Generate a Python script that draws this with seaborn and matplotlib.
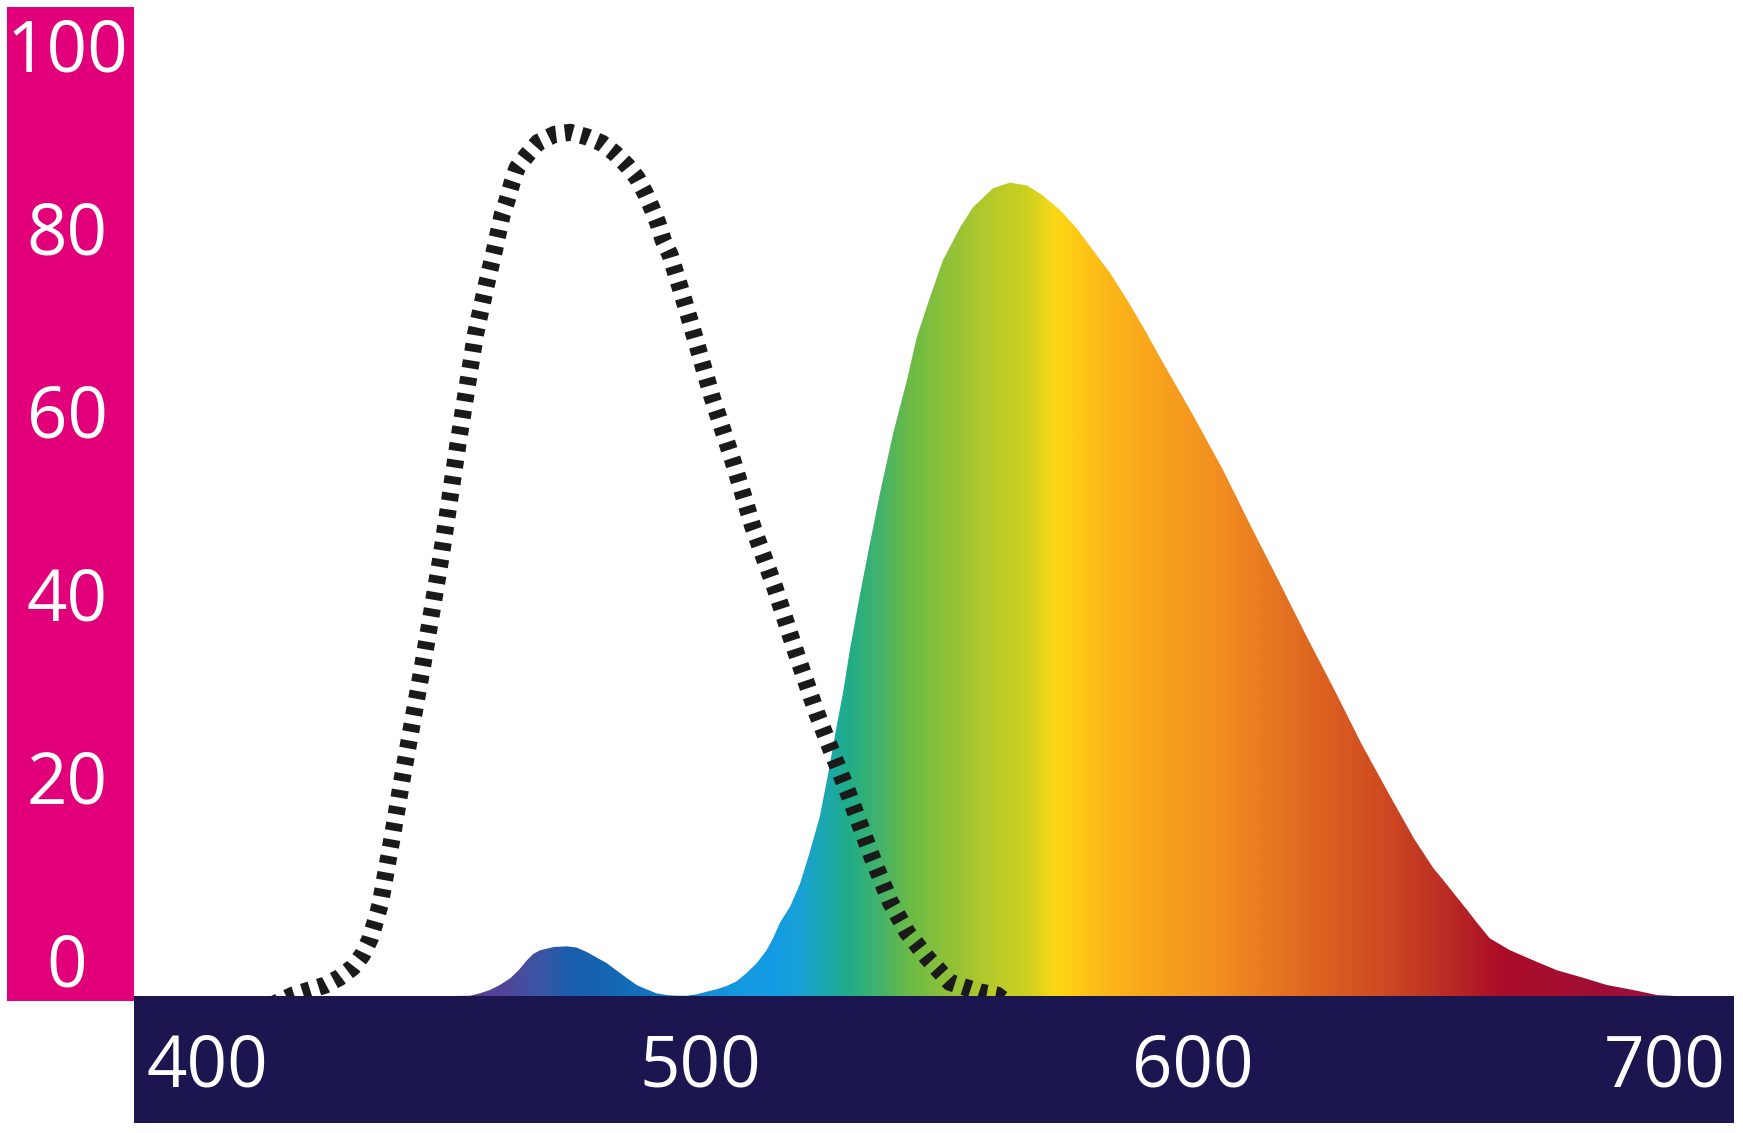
import numpy as np
import pandas as pd
import matplotlib
matplotlib.use("Agg")
import matplotlib.pyplot as plt
import seaborn as sns
from matplotlib.colors import LinearSegmentedColormap
from matplotlib.patches import Rectangle
from matplotlib.transforms import ScaledTranslation

# ---------------- data ----------------
# photopic (coloured) curve: wavelength (nm) and relative sensitivity
fill_nm = [450.0, 453.3, 455.3, 457.3, 459.3, 461.4, 463.1, 464.8, 466.1, 467.5, 470.2,
           472.9, 474.9, 477.0, 479.0, 481.0, 483.0, 485.1, 487.1, 489.1, 491.1, 493.2,
           495.2, 497.3, 499.3, 501.3, 503.3, 505.4, 507.4, 509.4, 511.5, 513.5, 514.8,
           516.2, 518.3, 520.3, 522.2, 524.3, 526.0, 527.7, 529.1, 530.4, 532.5, 534.5,
           536.5, 539.2, 542.0, 544.0, 546.7, 549.3, 552.8, 555.4, 559.5, 562.9, 566.4,
           569.6, 573.1, 576.5, 579.8, 583.3, 586.7, 590.0, 593.4, 600.1, 606.2, 612.0,
           617.4, 623.0, 628.7, 634.3, 640.0, 645.0, 648.9, 650.9, 653.7, 655.8, 657.8,
           660.4, 664.5, 669.2, 674.1, 679.3, 684.2, 689.5, 694.4, 698.0]
fill_val = [0.0, 0.03, 0.3, 0.66, 1.2, 1.93, 2.8, 3.9, 4.6, 5.0, 5.35,
            5.43, 5.3, 4.8, 4.2, 3.6, 2.8, 1.97, 1.2, 0.73, 0.3, 0.1,
            0.03, 0.03, 0.18, 0.47, 0.73, 1.1, 1.6, 2.5, 3.6, 5.0, 6.3,
            8.0, 9.8, 12.3, 15.6, 19.6, 24.3, 29.4, 33.4, 37.8, 44.0, 49.5,
            54.9, 61.5, 67.3, 72.0, 76.4, 80.4, 84.0, 86.2, 88.3, 88.9, 88.6,
            87.5, 85.9, 83.9, 81.5, 79.0, 76.1, 73.1, 69.8, 63.5, 57.5, 51.2,
            45.5, 39.5, 33.6, 27.6, 22.0, 17.2, 14.0, 12.7, 10.8, 9.4, 8.0,
            6.3, 5.0, 3.9, 2.8, 2.0, 1.2, 0.66, 0.1, 0.0]

# scotopic (dotted) curve
dot_nm = [413.0, 417.3, 420.6, 423.9, 426.7, 429.4, 431.4, 433.0, 434.0, 435.0, 436.0,
          437.5, 439.5, 443.6, 447.4, 450.8, 454.4, 456.6, 458.3, 459.8, 460.8, 461.8,
          462.8, 464.8, 467.1, 470.5, 473.6, 477.0, 480.1, 482.7, 485.1, 487.2, 488.8,
          490.2, 491.4, 492.5, 493.9, 495.9, 497.9, 502.4, 506.7, 510.7, 515.2, 519.3,
          523.7, 526.0, 530.0, 534.9, 538.6, 542.0, 546.1, 550.7, 556.8, 560.3, 563.0]
dot_val = [-1.0, 0.1, 0.65, 1.2, 2.0, 3.1, 4.5, 6.3, 8.1, 10.0, 13.0,
           17.5, 23.8, 36.0, 48.1, 60.3, 72.4, 77.8, 81.7, 85.4, 87.0, 88.9,
           90.5, 91.9, 93.3, 94.2, 94.4, 93.9, 93.2, 92.1, 90.8, 89.4, 87.8,
           86.1, 84.5, 82.6, 81.0, 77.5, 73.9, 65.5, 58.4, 51.3, 44.6, 37.8,
           30.9, 27.7, 22.3, 15.2, 10.3, 7.0, 4.2, 1.5, 0.44, 0.1, -1.0]

# spectrum colour stops (wavelength, colour)
spec_nm = [385.0, 453.3, 460.8, 467.5, 473.0, 481.1, 494.5, 508.1, 514.8, 520.3, 530.4,
           536.5, 542.6, 549.3, 559.5, 566.4, 572.5, 579.8, 590.0, 605.0, 621.8, 638.7,
           655.8, 662.5, 682.8, 696.4, 710.0]
spec_col = ["#5b3b93", "#5b3b93", "#4f469c", "#3a56a4", "#1a5ead", "#1465b1", "#1180c9",
            "#159ae2", "#139be5", "#18a1d5", "#20ad86", "#44b26a", "#6cbb45", "#8bc03a",
            "#b8ca2a", "#cdd020", "#fdd813", "#fdbf17", "#f9a81b", "#f39020", "#e16b20",
            "#cf4b22", "#b52325", "#ac0e28", "#a00d35", "#9b1040", "#961045"]

x_ticks = [400, 500, 600, 700]
x_labels = ["400", "500", "600", "700"]
y_ticks = [0, 20, 40, 60, 80, 100]
y_labels = ["0", "20", "40", "60", "80", "100"]

# ---------------- style ----------------
sns.set_theme(style="white")
plt.rcParams["font.family"] = ["Open Sans", "DejaVu Sans"]

W, H, DPI = 1743, 1133, 100
fig = plt.figure(figsize=(W / DPI, H / DPI), dpi=DPI)
fig.patch.set_facecolor("white")

def px_rect(x0, y0_top, x1, y1_top, color):
    # rectangle given in pixel coordinates (origin top-left)
    r = Rectangle((x0 / W, 1 - y1_top / H), (x1 - x0) / W, (y1_top - y0_top) / H,
                  transform=fig.transFigure, facecolor=color, edgecolor="none", zorder=-5)
    fig.patches.append(r)

PINK = "#e2007a"
NAVY = "#1c1650"
px_rect(7, 7, 134, 1001, PINK)
px_rect(134, 996, 1734, 1123, NAVY)

ax = fig.add_axes([134 / W, 1 - 996 / H, 1600 / W, 989 / H])
ax.set_facecolor("none")

xmin, xmax = 385.0, 710.0
ymin, ymax = 0.0, 108.1

# gradient fill clipped to the curve
df_fill = pd.DataFrame({"nm": fill_nm, "val": fill_val})
poly = ax.fill_between(df_fill["nm"], 0, df_fill["val"], facecolor="none", edgecolor="none")
pos = [(v - xmin) / (xmax - xmin) for v in spec_nm]
cmap = LinearSegmentedColormap.from_list("spec", list(zip(pos, spec_col)))
grad = np.linspace(0, 1, 1200).reshape(1, -1)
im = ax.imshow(grad, extent=[xmin, xmax, ymin, ymax], aspect="auto", cmap=cmap,
               origin="lower", interpolation="bilinear", zorder=1)
im.set_clip_path(poly.get_paths()[0], transform=ax.transData)

# dotted curve
df_dot = pd.DataFrame({"nm": dot_nm, "val": dot_val})
sns.lineplot(data=df_dot, x="nm", y="val", color="#1a1a1a", linewidth=12.3, ax=ax,
             sort=False, zorder=3)
line = ax.lines[-1]
line.set_linestyle((0, (0.46, 0.52)))
line.set_dash_capstyle("butt")

ax.set_xlim(xmin, xmax)
ax.set_ylim(ymin, ymax)
for s in ax.spines.values():
    s.set_visible(False)
ax.grid(False)
ax.set_xlabel("")
ax.set_ylabel("")

ax.set_xticks(x_ticks)
ax.set_xticklabels(x_labels)
ax.set_yticks(y_ticks)
ax.set_yticklabels(y_labels)
ax.tick_params(axis="x", length=0, pad=51.8, labelsize=51, colors="white")
ax.tick_params(axis="y", length=0, pad=48.2, labelsize=51, colors="white")

for lab in ax.get_xticklabels():
    lab.set_va("center")
for lab in ax.get_yticklabels():
    lab.set_ha("center")
    lab.set_va("center")
    lab.set_transform(lab.get_transform() + ScaledTranslation(0, 28 / DPI, fig.dpi_scale_trans))
xl = ax.get_xticklabels()[-1]
xl.set_transform(xl.get_transform() + ScaledTranslation(-20 / DPI, 0, fig.dpi_scale_trans))

fig.savefig("out.png", dpi=DPI)
